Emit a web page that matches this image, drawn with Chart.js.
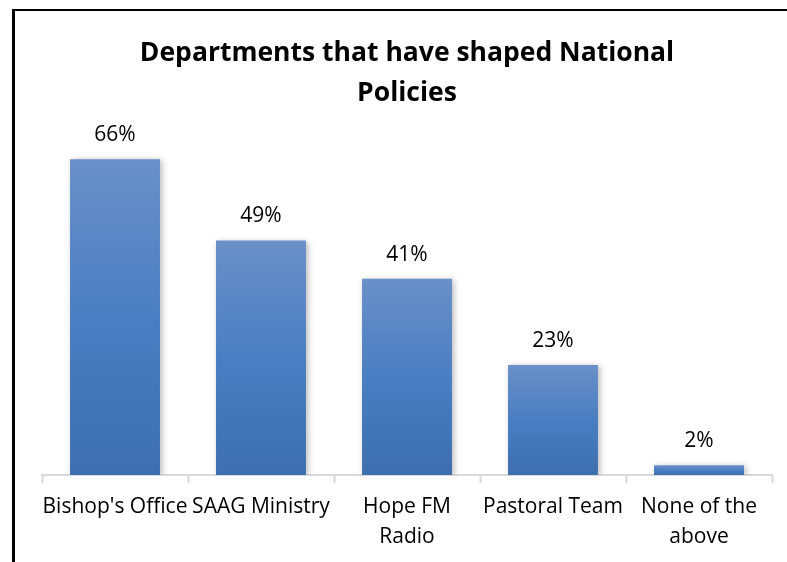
<!DOCTYPE html>
<html>
<head>
<meta charset="utf-8">
<script src="https://cdn.jsdelivr.net/npm/chart.js@4/dist/chart.umd.min.js"></script>
<style>
  html, body { margin: 0; padding: 0; background: #ffffff; }
  #wrap { position: relative; width: 787px; height: 562px; overflow: hidden; }
  #frame {
    position: absolute; left: 12px; top: 9px; width: 900px; height: 900px;
    border-left: 3px solid #000; border-top: 2px solid #000; box-sizing: border-box;
  }
  #c { position: absolute; left: 0; top: 0; }
</style>
</head>
<body>
<div id="wrap">
  <div id="frame"></div>
  <canvas id="c" width="787" height="562"></canvas>
</div>
<script>
// Survey: which departments have shaped national policies (share of respondents, %)
const departments = [
  "Bishop's Office",
  ["SAAG Ministry"],
  ["Hope FM", "Radio"],
  ["Pastoral Team"],
  ["None of the", "above"]
];
const shares = [66, 49, 41, 23, 2];
const chartTitle = ["Departments that have shaped National", "Policies"];

const FONT = "'Open Sans', 'Liberation Sans', sans-serif";

// Each bar gets its own vertical gradient: lighter at the top, deeper blue at the base.
function barGradient(ctx) {
  const chart = ctx.chart;
  const area = chart.chartArea;
  if (!area || !chart.scales.y) return '#4A7EC2';
  const y = chart.scales.y;
  const top = y.getPixelForValue(ctx.raw);
  const base = y.getPixelForValue(0);
  if (!isFinite(top) || !isFinite(base) || base - top < 1) return '#4A7EC2';
  const g = chart.ctx.createLinearGradient(0, top, 0, base);
  g.addColorStop(0, '#6A90C8');
  g.addColorStop(0.5, '#4A7EC2');
  g.addColorStop(1, '#3D6FB0');
  return g;
}

// Soft drop shadow behind the bars.
const barShadow = {
  id: 'barShadow',
  beforeDatasetsDraw(chart) {
    const c = chart.ctx;
    c.save();
    c.shadowColor = 'rgba(0,0,0,0.28)';
    c.shadowBlur = 6;
    c.shadowOffsetX = 2;
    c.shadowOffsetY = 1;
  },
  afterDatasetsDraw(chart) {
    chart.ctx.restore();
  }
};

// Percentage labels above every bar.
const valueLabels = {
  id: 'valueLabels',
  afterDatasetsDraw(chart) {
    const c = chart.ctx;
    const meta = chart.getDatasetMeta(0);
    c.save();
    c.font = "21px " + FONT;
    c.fillStyle = '#000000';
    c.textAlign = 'center';
    c.textBaseline = 'middle';
    meta.data.forEach((bar, i) => {
      c.fillText(shares[i] + '%', bar.x, bar.y - 24);
    });
    c.restore();
  }
};

new Chart(document.getElementById('c'), {
  type: 'bar',
  data: {
    labels: departments,
    datasets: [{
      data: shares,
      backgroundColor: barGradient,
      borderWidth: 0,
      categoryPercentage: 1.0,
      barPercentage: 0.616
    }]
  },
  options: {
    responsive: false,
    animation: false,
    devicePixelRatio: 1,
    layout: { padding: { left: 42, right: 15, top: 10, bottom: 0 } },
    plugins: {
      legend: { display: false },
      tooltip: { enabled: false },
      title: {
        display: true,
        text: chartTitle,
        color: '#000000',
        font: { family: FONT, size: 26.5, weight: 'bold', lineHeight: 1.51 },
        padding: { top: 23, bottom: 27 }
      }
    },
    scales: {
      y: {
        display: false,
        min: 0,
        max: 70
      },
      x: {
        grid: {
          display: true,
          drawOnChartArea: false,
          drawTicks: true,
          tickLength: 8,
          tickWidth: 2,
          tickColor: '#D9D9D9',
          color: '#D9D9D9',
          offset: true
        },
        border: { display: true, color: '#D9D9D9', width: 2 },
        ticks: {
          color: '#000000',
          maxRotation: 0,
          autoSkip: false,
          padding: 9.5,
          font: { family: FONT, size: 21, lineHeight: 1.43 }
        }
      }
    }
  },
  plugins: [barShadow, valueLabels]
});
</script>
</body>
</html>
